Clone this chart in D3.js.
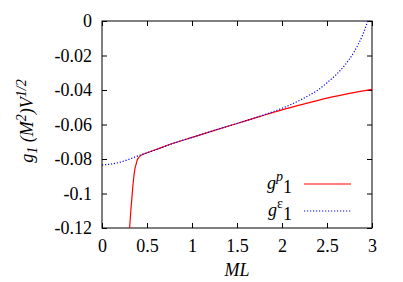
<!DOCTYPE html>
<html>
<head>
<meta charset="utf-8">
<script src="https://cdn.jsdelivr.net/npm/d3@7"></script>
<style>
  body { margin: 0; background: #fff; }
  text { font-family: "Liberation Serif"; font-size: 18px; fill: #000; }
</style>
</head>
<body>
<svg width="403" height="282"></svg>
<script>
// values
const mlP = [0.28, 0.295, 0.307, 0.32, 0.33, 0.34, 0.35, 0.365, 0.38, 0.39, 0.41, 0.43, 0.46, 0.5, 0.6, 0.75, 1.0, 1.25, 1.5, 1.75, 2.0, 2.25, 2.5, 2.75, 3.0];
const gP  = [-0.15, -0.13, -0.12, -0.11, -0.104, -0.0975, -0.092, -0.086, -0.0828, -0.0808, -0.0790, -0.0780, -0.0772, -0.0764, -0.0745, -0.0716, -0.0675, -0.0634, -0.0594, -0.0554, -0.0515, -0.0480, -0.0447, -0.0420, -0.0396];
const mlE = [0, 0.2, 0.4, 0.6, 0.8, 1.0, 1.25, 1.5, 1.75, 2.0, 2.1, 2.2, 2.3, 2.4, 2.5, 2.6, 2.7, 2.8, 2.9, 2.95, 3.0];
const gE  = [-0.0835, -0.0819, -0.0782, -0.0746, -0.0708, -0.0675, -0.0634, -0.0594, -0.0553, -0.0506, -0.0484, -0.0459, -0.0431, -0.0400, -0.0358, -0.0312, -0.0255, -0.0180, -0.0076, -0.0005, 0.0070];
const xTicks = [0, 0.5, 1, 1.5, 2, 2.5, 3];
const yTicks = [0, -0.02, -0.04, -0.06, -0.08, -0.1, -0.12];

const svg = d3.select("svg");
const mLeft = 102, mRight = 372, mTop = 21, mBottom = 228;
const serif = "Liberation Serif";

const x = d3.scaleLinear().domain([0, 3]).range([mLeft, mRight]);
const y = d3.scaleLinear().domain([-0.12, 0]).range([mBottom, mTop]);

svg.append("clipPath").attr("id", "plot")
    .append("rect")
    .attr("x", mLeft).attr("y", mTop)
    .attr("width", mRight - mLeft).attr("height", mBottom - mTop);

// axes: ticks inside on all four sides
const tick = 5;
const fmt = d => d === 0 ? "0" : String(d);

svg.append("g")
    .attr("transform", `translate(0,${mBottom})`)
    .call(d3.axisBottom(x).tickValues(xTicks).tickSizeInner(-tick).tickSizeOuter(0).tickPadding(11).tickFormat(fmt));
svg.append("g")
    .attr("transform", `translate(0,${mTop})`)
    .call(d3.axisTop(x).tickValues(xTicks).tickSizeInner(-tick).tickSizeOuter(0).tickFormat(""));
svg.append("g")
    .attr("transform", `translate(${mLeft},0)`)
    .call(d3.axisLeft(y).tickValues(yTicks).tickSizeInner(-tick).tickSizeOuter(0).tickPadding(10).tickFormat(fmt));
svg.append("g")
    .attr("transform", `translate(${mRight},0)`)
    .call(d3.axisRight(y).tickValues(yTicks).tickSizeInner(-tick).tickSizeOuter(0).tickFormat(""));

svg.selectAll(".domain").remove();
svg.selectAll("g").attr("font-family", serif).attr("font-size", 18);
svg.selectAll(".tick line").attr("stroke", "#000");
svg.selectAll(".tick text")
    .attr("font-family", serif)
    .style("font-family", serif)
    .style("font-size", "18px");

svg.append("rect")
    .attr("x", mLeft).attr("y", mTop)
    .attr("width", mRight - mLeft).attr("height", mBottom - mTop)
    .attr("fill", "none").attr("stroke", "#000");

// curves
const line = d3.line()
    .x(d => x(d[0]))
    .y(d => y(d[1]))
    .curve(d3.curveMonotoneX);

const curves = svg.append("g").attr("clip-path", "url(#plot)");
curves.append("path")
    .datum(mlP.map((m, i) => [m, gP[i]]))
    .attr("fill", "none").attr("stroke", "#ff0000").attr("stroke-width", 1.2)
    .attr("d", line);
curves.append("path")
    .datum(mlE.map((m, i) => [m, gE[i]]))
    .attr("fill", "none").attr("stroke", "#0000ff").attr("stroke-width", 1.2)
    .attr("stroke-dasharray", "1.2,1.8")
    .attr("d", line);

// legend
const legend = [
    { sup: "p", italic: true, color: "#ff0000", dash: null, y: 184 },
    { sup: "\u03b5", italic: false, color: "#0000ff", dash: "1.2,1.8", y: 211 }
];
legend.forEach(d => {
    const t = svg.append("text")
        .attr("x", 292).attr("y", d.y + 5)
        .attr("text-anchor", "end");
    t.append("tspan").style("font-style", "italic").text("g");
    t.append("tspan").attr("dy", -8).style("font-size", "14px")
        .style("font-style", d.italic ? "italic" : "normal").text(d.sup);
    t.append("tspan").attr("dy", 12).style("font-size", "18px").text("1");
    svg.append("line")
        .attr("x1", 304).attr("x2", 351)
        .attr("y1", d.y).attr("y2", d.y)
        .attr("stroke", d.color).attr("stroke-width", 1.2)
        .attr("stroke-dasharray", d.dash);
});

// axis labels
svg.append("text")
    .attr("x", (mLeft + mRight) / 2).attr("y", 276)
    .attr("text-anchor", "middle")
    .style("font-style", "italic")
    .text("ML");

const yl = svg.append("text")
    .attr("transform", "translate(33,121) rotate(-90)")
    .attr("text-anchor", "middle")
    .style("font-style", "italic");
yl.append("tspan").text("g");
yl.append("tspan").attr("dy", 4).style("font-size", "14px").text("1");
yl.append("tspan").attr("dy", -4).text(" (M");
yl.append("tspan").attr("dy", -7).style("font-size", "14px").text("2");
yl.append("tspan").attr("dy", 7).text(")V");
yl.append("tspan").attr("dy", -7).style("font-size", "14px").text("1/2");
</script>
</body>
</html>
